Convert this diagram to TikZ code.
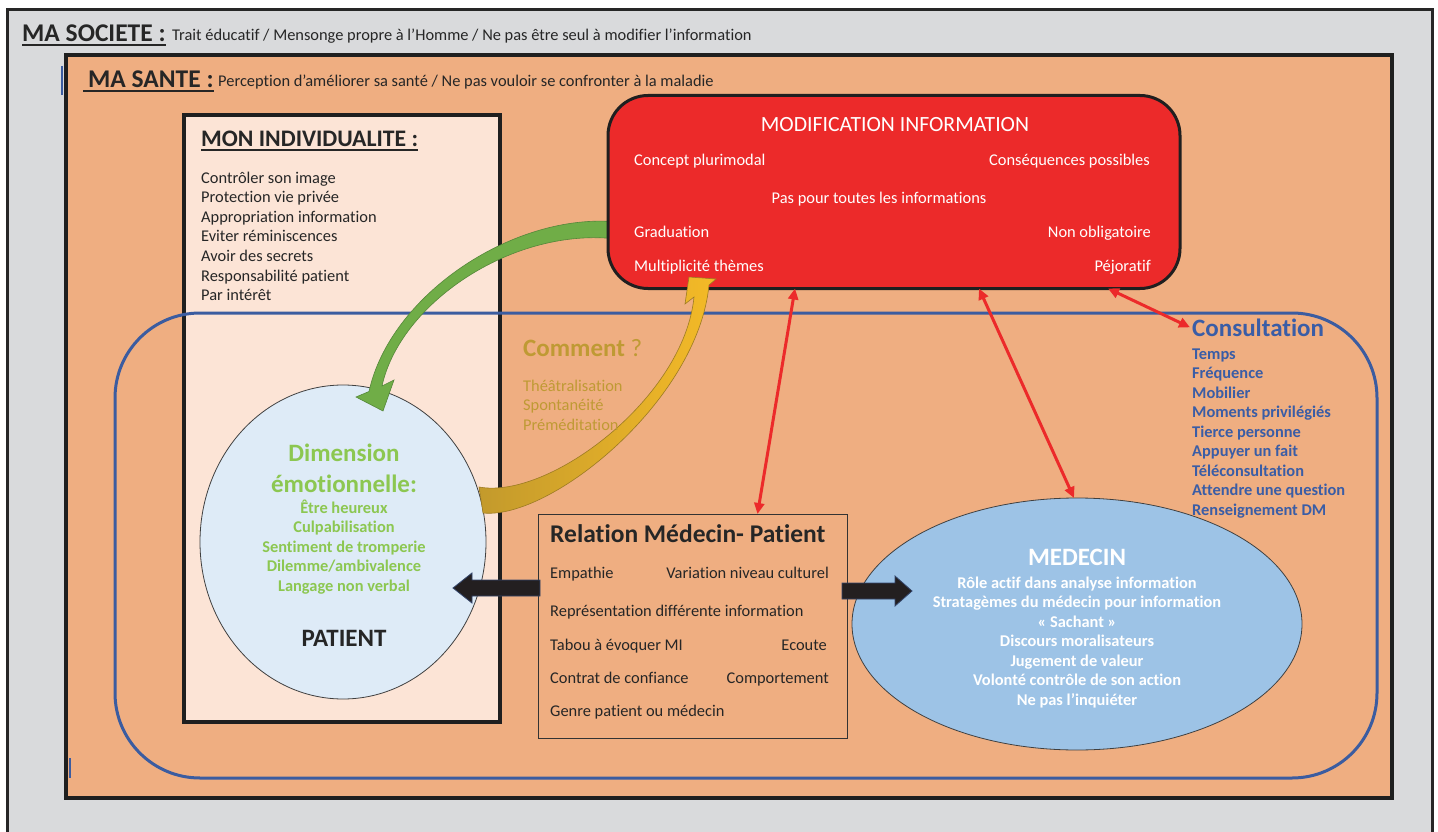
\documentclass[tikz,border=0pt]{standalone}
\usepackage{fontspec}
\setmainfont{Carlito}[Ligatures={NoCommon}]
\usetikzlibrary{shapes.geometric,arrows.meta,calc}
\definecolor{bggray}{HTML}{D9DADC}
\definecolor{sante}{HTML}{EFAE81}
\definecolor{indiv}{HTML}{FCE4D6}
\definecolor{cadreblue}{HTML}{3B5CA0}
\definecolor{modred}{HTML}{EC2A2A}
\definecolor{patfill}{HTML}{DEEBF7}
\definecolor{medfill}{HTML}{9DC3E6}
\definecolor{txtblack}{HTML}{262626}
\definecolor{emogreen}{HTML}{8CC751}
\definecolor{gold}{HTML}{BF9A34}
\definecolor{consblue}{HTML}{3A5DA6}
\definecolor{arrgreen}{HTML}{70AD47}
\definecolor{arrgreenedge}{HTML}{55873A}
\definecolor{golddark}{HTML}{C39A2C}
\definecolor{goldlight}{HTML}{F4BA27}
\definecolor{blockfill}{HTML}{231F20}
\definecolor{blockedge}{HTML}{34466B}
\begin{document}
\begin{tikzpicture}[x=1pt,y=-1pt,
  txt/.style={inner sep=0pt, anchor=base west, font=\fontsize{16.4}{19.6}\selectfont, text=txtblack},
  txtr/.style={txt, anchor=base east},
  txtc/.style={txt, anchor=base},
  btxt/.style={txt, font=\fontsize{16.4}{19.6}\selectfont\bfseries},
  head/.style={inner sep=0pt, anchor=base west, font=\fontsize{25.5}{30}\selectfont\bfseries, text=txtblack},
  uline/.style={line width=1.6pt, draw=txtblack},
  redlink/.style={draw=modred, line width=3pt, {Triangle[length=11pt,width=10pt]}-{Triangle[length=11pt,width=10pt]}},
  blockarrow/.style={fill=blockfill, draw=blockedge, line width=0.8pt},
  wbox/.style={inner sep=0pt, outer sep=0pt}
]
\useasboundingbox (0,0) rectangle (1438,832);
\fill[white] (0,0) rectangle (1438,832);
\draw[fill=bggray, draw=black!85, line width=3pt] (7,10) rectangle (1432,850);
\draw[cadreblue, line width=1.5pt] (62,66) -- (62,95);

% frames
\node[wbox, draw=black!88, fill=sante, line width=3.5pt, minimum width=1326pt, minimum height=743pt] (sante) at (729,426.5) {};
\draw[cadreblue, line width=1.5pt] (70,758) -- (70,778);
\node[wbox, draw=black!88, fill=indiv, line width=4pt, minimum width=316pt, minimum height=607pt] (indivbox) at (342,418.5) {};
\node[wbox, draw=cadreblue, line width=3pt, rounded corners=85pt, minimum width=1262pt, minimum height=465pt] (cadre) at (746,545.5) {};

% main shapes
\node[wbox, ellipse, draw=black!75, fill=patfill, line width=0.8pt, minimum width=286pt, minimum height=314pt] (patient) at (343,542) {};
\node[wbox, draw=black!80, fill=sante, line width=1pt, minimum width=309pt, minimum height=224pt] (relation) at (692.5,626) {};
\node[wbox, ellipse, draw=black!75, fill=medfill, line width=0.8pt, minimum width=450pt, minimum height=252pt] (medecin) at (1077,624) {};

% green curved arrow
\filldraw[fill=arrgreen, draw=arrgreenedge, line width=0.6pt]
  (612,221.5) .. controls (510,215) and (390,296) .. (369,391.5)
  -- (356,397) -- (383,411) -- (394,380) -- (382,386)
  .. controls (400,304) and (510,229) .. (612,238.5) -- cycle;

% modification box
\node[wbox, draw=black!88, fill=modred, line width=3pt, rounded corners=40pt, minimum width=572pt, minimum height=193pt] (modif) at (894,192) {};

% yellow curved arrow
\path[left color=golddark, right color=goldlight, draw=golddark!80!black, line width=0.6pt]
  (479,487) .. controls (549,500) and (684,398) .. (694,297)
  -- (685,304) -- (689,277) -- (716,279) -- (709,285)
  .. controls (698,400) and (551,520) .. (483,513) -- cycle;

% consultation title (target of a red link)
\node[head, font=\fontsize{25}{30}\selectfont\bfseries, text=consblue] (cons) at (1192,336) {Consultation};

% red links
\draw[redlink] ([xshift=-99pt]modif.south) -- ([xshift=65pt]relation.north);
\draw[redlink] ([xshift=85pt]modif.south) -- ([xshift=-3pt]medecin.north);
\draw[redlink] ([xshift=214pt]modif.south) -- ([xshift=-2pt]cons.west);

% black block arrows
\coordinate (la) at ($(relation.west)+(2,-38)$);
\filldraw[blockarrow] (la) ++(0,-8) -- ++(-68,0) -- ++(0,-7) -- ++(-19,15) -- ++(19,15) -- ++(0,-7) -- ++(68,0) -- cycle;
\coordinate (ra) at ($(relation.east)+(-5,-35)$);
\filldraw[blockarrow] (ra) ++(0,-8) -- ++(53,0) -- ++(0,-7) -- ++(17,15) -- ++(-17,15) -- ++(0,-7) -- ++(-53,0) -- cycle;

% headers
\node[head] (soc) at (22,42) {MA SOCIETE :};
\draw[uline] ([yshift=-3pt]soc.base west) -- ([yshift=-3pt]soc.base east);
\node[txt] (socdesc) at (172,41) {Trait éducatif / Mensonge propre à l’Homme / Ne pas être seul à modifier l’information};
\node[head] (san) at (88,88) {MA SANTE :};
\draw[uline] ([xshift=-5pt,yshift=-3pt]san.base west) -- ([yshift=-3pt]san.base east);
\node[txt] (sandesc) at (218,87) {Perception d’améliorer sa santé / Ne pas vouloir se confronter à la maladie};

% individualite
\node[head, font=\fontsize{23.7}{28}\selectfont\bfseries] (ind) at (201,147) {MON INDIVIDUALITE :};
\draw[uline] ([yshift=-3pt]ind.base west) -- ([yshift=-3pt]ind.base east);
\foreach \t [count=\i] in {Contrôler son image, Protection vie privée, Appropriation information, Eviter réminiscences, Avoir des secrets, Responsabilité patient, Par intérêt}
  \node[txt] (ind\i) at (201,{183+19.6*(\i-1)}) {\t};

% modification texts
\node[txtc, font=\fontsize{21.7}{26}\selectfont, text=white] (modt) at (895,132) {MODIFICATION INFORMATION};
\node[txt, text=white] (m1) at (634,165) {Concept plurimodal};
\node[txtr, text=white] (m2) at (1150,165) {Conséquences possibles};
\node[txtc, text=white] (m3) at (879,204) {Pas pour toutes les informations};
\node[txt, text=white] (m4) at (634,237) {Graduation};
\node[txtr, text=white] (m5) at (1151,237) {Non obligatoire};
\node[txt, text=white] (m6) at (634,271) {Multiplicité thèmes};
\node[txtr, text=white] (m7) at (1151,271) {Péjoratif};

% comment
\node[txt, text=gold] (comm) at (523,356) {\fontsize{25}{30}\selectfont\bfseries Comment\mdseries\ ?};
\foreach \t [count=\i] in {Théâtralisation, Spontanéité, Préméditation}
  \node[txt, text=gold] (comm\i) at (523,{391+19.5*(\i-1)}) {\t};

% patient
\node[txtc, font=\fontsize{25}{30}\selectfont\bfseries, text=emogreen] (dim1) at (344,461) {Dimension};
\node[txtc, font=\fontsize{25}{30}\selectfont\bfseries, text=emogreen] (dim2) at (344,492) {émotionnelle:};
\foreach \t [count=\i] in {Être heureux, Culpabilisation, Sentiment de tromperie, Dilemme/ambivalence, Langage non verbal}
  \node[btxt, anchor=base, text=emogreen] (emo\i) at (344,{513+19.5*(\i-1)}) {\t};
\node[txtc, font=\fontsize{25}{30}\selectfont\bfseries] (pat) at (344,646) {PATIENT};

% relation
\node[head] (relt) at (550,542) {Relation Médecin- Patient};
\node[txt] (r1) at (550,578) {Empathie};
\node[txtr] (r2) at (829,578) {Variation niveau culturel};
\node[txt] (r3) at (550,616) {Représentation différente information};
\node[txt] (r4) at (550,650) {Tabou à évoquer MI};
\node[txtr] (r5) at (827,650) {Ecoute};
\node[txt] (r6) at (550,683) {Contrat de confiance};
\node[txtr] (r7) at (829,683) {Comportement};
\node[txt] (r8) at (550,716) {Genre patient ou médecin};

% medecin
\node[txtc, font=\fontsize{25}{30}\selectfont\bfseries, text=white] (medt) at (1077,565) {MEDECIN};
\foreach \t [count=\i] in {Rôle actif dans analyse information, Stratagèmes du médecin pour information, « Sachant », Discours moralisateurs, Jugement de valeur, Volonté contrôle de son action, Ne pas l’inquiéter}
  \node[btxt, anchor=base, text=white] (med\i) at (1077,{588+19.5*(\i-1)}) {\t};

% consultation
\foreach \t [count=\i] in {Temps, Fréquence, Mobilier, Moments privilégiés, Tierce personne, Appuyer un fait, Téléconsultation, Attendre une question, Renseignement DM}
  \node[btxt, text=consblue] (cons\i) at (1192,{359+19.5*(\i-1)}) {\t};
\end{tikzpicture}
\end{document}
